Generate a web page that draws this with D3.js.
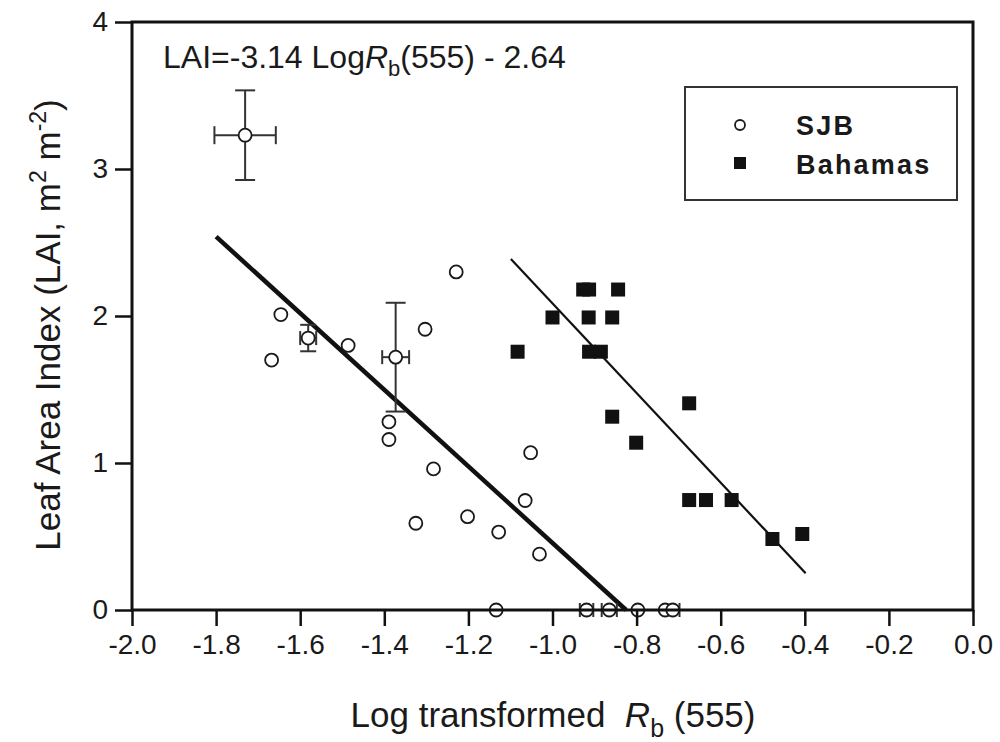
<!DOCTYPE html>
<html>
<head>
<meta charset="utf-8">
<script src="https://cdn.jsdelivr.net/npm/d3@7"></script>
<style>
  body { margin: 0; background: #fff; }
  text { font-family: "Liberation Sans", Arial, sans-serif; fill: #1a1a1a; white-space: pre; }
</style>
</head>
<body>
<div id="chart"></div>
<script>
// SJB points: x, y, x error, y error
const sjbX    = [-1.731, -1.646, -1.581, -1.668, -1.486, -1.373, -1.303, -1.229, -1.389, -1.389, -1.283, -1.052,
                 -1.325, -1.202, -1.065, -1.128, -1.031, -1.134, -0.919, -0.865, -0.797, -0.732, -0.714];
const sjbY    = [3.23, 2.01, 1.85, 1.70, 1.80, 1.72, 1.91, 2.30, 1.28, 1.16, 0.96, 1.07,
                 0.59, 0.635, 0.745, 0.53, 0.38, 0, 0, 0, 0, 0, 0];
const sjbXErr = [0.073, 0, 0.019, 0, 0, 0.032, 0, 0, 0, 0, 0, 0,
                 0, 0, 0, 0, 0, 0, 0.016, 0.018, 0, 0, 0.016];
const sjbYErr = [0.305, 0, 0.09, 0, 0, 0.37, 0, 0, 0, 0, 0, 0,
                 0, 0, 0, 0, 0, 0, 0, 0, 0, 0, 0];

const bahX = [-0.927, -0.913, -0.844, -1.0, -0.914, -0.858, -1.083, -0.913, -0.885,
              -0.675, -0.858, -0.801, -0.675, -0.635, -0.574, -0.477, -0.406];
const bahY = [2.18, 2.18, 2.18, 1.99, 1.99, 1.99, 1.757, 1.757, 1.757,
              1.406, 1.315, 1.138, 0.748, 0.748, 0.748, 0.483, 0.517];

// regression line end points
const sjbFit = [[-1.80, 2.54], [-0.825, 0]];
const bahFit = [[-1.099, 2.388], [-0.398, 0.25]];

const xTicks = [-2.0, -1.8, -1.6, -1.4, -1.2, -1.0, -0.8, -0.6, -0.4, -0.2, 0.0];
const yTicks = [0, 1, 2, 3, 4];

const W = 1000, H = 742;
const margin = { top: 22, right: 27, bottom: 132, left: 132 };
const innerW = W - margin.left - margin.right;
const innerH = H - margin.top - margin.bottom;

const svg = d3.select("#chart").append("svg")
    .attr("width", W)
    .attr("height", H);

const g = svg.append("g")
    .attr("transform", `translate(${margin.left},${margin.top})`);

const x = d3.scaleLinear().domain([-2, 0]).range([0, innerW]);
const y = d3.scaleLinear().domain([0, 4]).range([innerH, 0]);

// fit lines
const line = d3.line().x(d => x(d[0])).y(d => y(d[1]));
g.append("path").attr("d", line(sjbFit))
    .attr("fill", "none").attr("stroke", "#111").attr("stroke-width", 4.5);
g.append("path").attr("d", line(bahFit))
    .attr("fill", "none").attr("stroke", "#111").attr("stroke-width", 2.2);

// error bars
const sjb = sjbX.map((v, i) => ({ x: v, y: sjbY[i], ex: sjbXErr[i], ey: sjbYErr[i] }));
const errG = g.append("g").attr("stroke", "#333").attr("stroke-width", 2).attr("fill", "none");
sjb.filter(d => d.ey > 0).forEach(d => {
  const cap = d.ey > 0.2 ? 10 : 8;
  errG.append("line").attr("x1", x(d.x)).attr("x2", x(d.x)).attr("y1", y(d.y - d.ey)).attr("y2", y(d.y + d.ey));
  errG.append("line").attr("x1", x(d.x) - cap).attr("x2", x(d.x) + cap).attr("y1", y(d.y + d.ey)).attr("y2", y(d.y + d.ey));
  errG.append("line").attr("x1", x(d.x) - cap).attr("x2", x(d.x) + cap).attr("y1", y(d.y - d.ey)).attr("y2", y(d.y - d.ey));
});
sjb.filter(d => d.ex > 0).forEach(d => {
  const cap = d.ex > 0.05 ? 9 : 7;
  errG.append("line").attr("x1", x(d.x - d.ex)).attr("x2", x(d.x + d.ex)).attr("y1", y(d.y)).attr("y2", y(d.y));
  errG.append("line").attr("x1", x(d.x - d.ex)).attr("x2", x(d.x - d.ex)).attr("y1", y(d.y) - cap).attr("y2", y(d.y) + cap);
  errG.append("line").attr("x1", x(d.x + d.ex)).attr("x2", x(d.x + d.ex)).attr("y1", y(d.y) - cap).attr("y2", y(d.y) + cap);
});

// SJB open circles
g.selectAll("circle.sjb")
  .data(sjb)
  .enter().append("circle")
    .attr("class", "sjb")
    .attr("cx", d => x(d.x))
    .attr("cy", d => y(d.y))
    .attr("r", 6.5)
    .attr("fill", "#fff")
    .attr("stroke", "#1a1a1a")
    .attr("stroke-width", 1.8);

// Bahamas filled squares
const sq = 14;
g.selectAll("rect.bah")
  .data(bahX.map((v, i) => ({ x: v, y: bahY[i] })))
  .enter().append("rect")
    .attr("class", "bah")
    .attr("x", d => x(d.x) - sq / 2)
    .attr("y", d => y(d.y) - sq / 2)
    .attr("width", sq)
    .attr("height", sq)
    .attr("fill", "#111");

// axes
const xAxis = g.append("g")
    .attr("transform", `translate(0,${innerH})`)
    .call(d3.axisBottom(x).tickValues(xTicks).tickFormat(d3.format(".1f")).tickSize(16).tickPadding(8));
const yAxis = g.append("g")
    .call(d3.axisLeft(y).tickValues(yTicks).tickFormat(d3.format("d")).tickSize(17).tickPadding(7));
[xAxis, yAxis].forEach(a => {
  a.select(".domain").remove();
  a.selectAll("line").attr("stroke", "#111").attr("stroke-width", 2.5);
  a.selectAll("text").style("font-size", "28px").attr("fill", "#1a1a1a");
});
xAxis.selectAll("text").text(d => d3.format(".1f")(d).replace("−", "-"));

// frame
g.append("rect")
    .attr("width", innerW)
    .attr("height", innerH)
    .attr("fill", "none")
    .attr("stroke", "#111")
    .attr("stroke-width", 3);

// equation
const eq = g.append("text")
    .attr("x", 31)
    .attr("y", 46)
    .style("font-size", "32px");
eq.append("tspan").text("LAI=-3.14 Log");
eq.append("tspan").style("font-style", "italic").text("R");
eq.append("tspan").attr("dy", 8).style("font-size", "22px").text("b");
eq.append("tspan").attr("dy", -8).text("(555) - 2.64");

// legend
const lg = svg.append("g").attr("transform", "translate(685,87)");
lg.append("rect")
    .attr("width", 272)
    .attr("height", 113)
    .attr("fill", "#fff")
    .attr("stroke", "#333")
    .attr("stroke-width", 2);
lg.append("circle").attr("cx", 55).attr("cy", 38).attr("r", 5)
    .attr("fill", "#fff").attr("stroke", "#1a1a1a").attr("stroke-width", 1.8);
lg.append("rect").attr("x", 49).attr("y", 70).attr("width", 12).attr("height", 12).attr("fill", "#111");
lg.append("text").attr("x", 111).attr("y", 48).style("font-size", "27px").style("font-weight", "bold")
    .style("letter-spacing", "2.2px").text("SJB");
lg.append("text").attr("x", 111).attr("y", 87).style("font-size", "27px").style("font-weight", "bold")
    .style("letter-spacing", "2.2px").text("Bahamas");

// axis titles
const xt = svg.append("text")
    .attr("x", 553)
    .attr("y", 727)
    .attr("text-anchor", "middle")
    .style("font-size", "35px");
xt.append("tspan").text("Log transformed  ");
xt.append("tspan").style("font-style", "italic").text("R");
xt.append("tspan").attr("dy", 10).style("font-size", "25px").text("b");
xt.append("tspan").attr("dy", -10).text(" (555)");

const yt = svg.append("text")
    .attr("transform", `translate(60,${margin.top + innerH / 2 + 9}) rotate(-90)`)
    .attr("text-anchor", "middle")
    .style("font-size", "35px");
yt.append("tspan").text("Leaf Area Index (LAI, m");
yt.append("tspan").attr("dy", -14).style("font-size", "23px").text("2");
yt.append("tspan").attr("dy", 14).text(" m");
yt.append("tspan").attr("dy", -14).style("font-size", "23px").text("-2");
yt.append("tspan").attr("dy", 14).text(")");
</script>
</body>
</html>
